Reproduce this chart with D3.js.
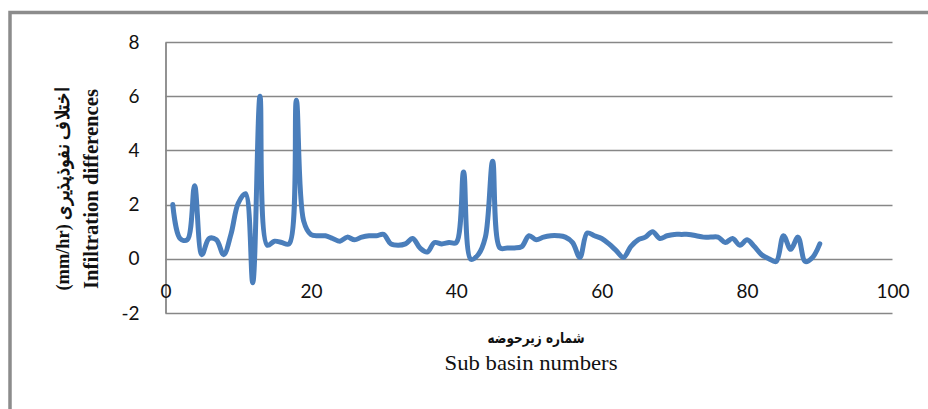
<!DOCTYPE html>
<html>
<head>
<meta charset="utf-8">
<script src="https://cdn.jsdelivr.net/npm/d3@7"></script>
<style>
  html, body { margin: 0; padding: 0; background: #fff; }
  svg { display: block; }
</style>
</head>
<body>
<svg id="chart" width="928" height="409"></svg>
<script>
// ---- data ----
const subBasins = d3.range(1, 91);
const infiltrationDiff = [
  2.0, 0.75, 0.7, 2.7, 0.15, 0.75, 0.7, 0.15, 0.9, 2.05,
  2.4, -0.88, 6.0, 0.5, 0.65, 0.6, 0.55, 5.85, 1.4, 0.9,
  0.85, 0.85, 0.75, 0.65, 0.8, 0.7, 0.8, 0.85, 0.85, 0.9,
  0.55, 0.5, 0.55, 0.75, 0.4, 0.25, 0.6, 0.55, 0.6, 0.6,
  3.2, -0.02, 0.15, 0.8, 3.6, 0.4, 0.4, 0.4, 0.45, 0.85,
  0.7, 0.8, 0.85, 0.85, 0.8, 0.6, 0.05, 0.95, 0.85, 0.75,
  0.55, 0.3, 0.05, 0.45, 0.7, 0.8, 1.0, 0.75, 0.85, 0.9,
  0.9, 0.9, 0.85, 0.8, 0.8, 0.8, 0.6, 0.75, 0.5, 0.7,
  0.45, 0.15, 0.0, -0.1, 0.85, 0.35, 0.8, -0.1, 0.05, 0.55
];
const xTicks = [0, 20, 40, 60, 80, 100];
const yTicks = [-2, 0, 2, 4, 6, 8];
const yTitleLine1 = "(mm/hr)  اختلاف نفوذپذیری";
const yTitleLine2 = "Infiltration  differences";
const xTitleLine1 = "شماره زیرحوضه";
const xTitleLine2 = "Sub basin numbers";

// ---- layout ----
const svg = d3.select("#chart");
const x = d3.scaleLinear().domain([0, 100]).range([165.5, 892.5]);
const y = d3.scaleLinear().domain([-2, 8]).range([313, 42]);
const fmt = d => String(d); // plain hyphen-minus like the reference

// outer border (left + top only visible)
svg.append("path")
  .attr("d", "M10,409 L10,12.5 L928,12.5")
  .attr("fill", "none").attr("stroke", "#8c8c8c").attr("stroke-width", 3.5);

// gridlines
svg.append("g").selectAll("line").data(yTicks).join("line")
  .attr("x1", x(0)).attr("x2", x(100))
  .attr("y1", d => Math.round(y(d)) + 0.5).attr("y2", d => Math.round(y(d)) + 0.5)
  .attr("stroke", "#878787").attr("stroke-width", 1.6);

// y axis
const yAxis = svg.append("g")
  .attr("transform", `translate(${x(0)},0)`)
  .call(d3.axisLeft(y).tickValues(yTicks).tickSize(0).tickPadding(26).tickFormat(fmt));
yAxis.select(".domain").attr("stroke", "#878787").attr("stroke-width", 1.8);
yAxis.selectAll("text")
  .attr("font-family", "Lato, 'Liberation Sans', sans-serif")
  .attr("font-size", 19).attr("fill", "#111");

// x axis labels
const xAxis = svg.append("g")
  .attr("transform", `translate(0,${y(0)})`)
  .call(d3.axisBottom(x).tickValues(xTicks).tickSize(0).tickPadding(26).tickFormat(fmt));
xAxis.select(".domain").remove();
xAxis.selectAll("text")
  .attr("font-family", "Lato, 'Liberation Sans', sans-serif")
  .attr("font-size", 19).attr("fill", "#111");

// line
const line = d3.line()
  .x((d, i) => x(subBasins[i]))
  .y(d => y(d))
  .curve(d3.curveCatmullRom.alpha(0.5));
svg.append("path")
  .datum(infiltrationDiff)
  .attr("d", line)
  .attr("fill", "none")
  .attr("stroke", "#4a7ebb")
  .attr("stroke-width", 5)
  .attr("stroke-linejoin", "round")
  .attr("stroke-linecap", "round");

// y title
const yt = svg.append("g").attr("transform", "translate(0,189) rotate(-90)");
yt.append("text").attr("x", 0).attr("y", 69)
  .attr("text-anchor", "middle")
  .attr("font-family", "'Liberation Serif', 'DejaVu Serif', serif")
  .attr("font-weight", "bold").attr("font-size", 19).attr("fill", "#111")
  .attr("textLength", 203).attr("lengthAdjust", "spacingAndGlyphs")
  .text(yTitleLine1);
yt.append("text").attr("x", 0).attr("y", 98)
  .attr("text-anchor", "middle")
  .attr("font-family", "'Liberation Serif', serif")
  .attr("font-weight", "bold").attr("font-size", 20).attr("fill", "#111")
  .attr("textLength", 200).attr("lengthAdjust", "spacingAndGlyphs")
  .text(yTitleLine2);

// x title
svg.append("text").attr("x", 536).attr("y", 343)
  .attr("text-anchor", "middle")
  .attr("font-family", "'DejaVu Sans', sans-serif")
  .attr("font-weight", "bold")
  .attr("font-size", 15).attr("fill", "#111")
  .attr("textLength", 97).attr("lengthAdjust", "spacingAndGlyphs")
  .text(xTitleLine1);
svg.append("text").attr("x", 531).attr("y", 370)
  .attr("text-anchor", "middle")
  .attr("font-family", "'Liberation Serif', serif")
  .attr("font-size", 21).attr("fill", "#111")
  .attr("textLength", 173).attr("lengthAdjust", "spacingAndGlyphs")
  .text(xTitleLine2);
</script>
</body>
</html>
